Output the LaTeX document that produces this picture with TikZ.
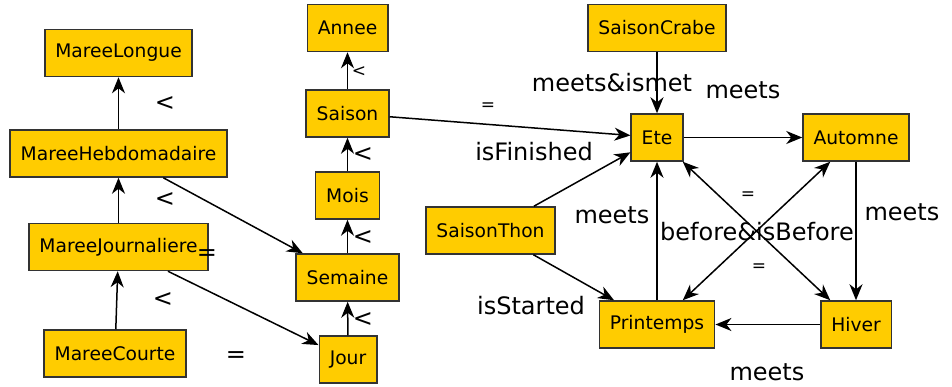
\documentclass[tikz,border=0pt]{standalone}
\usepackage{fontspec}
\setmainfont{DejaVu Sans}
\usetikzlibrary{arrows.meta}
\definecolor{boxyellow}{RGB}{255,204,0}
\definecolor{boxborder}{RGB}{51,51,51}
\begin{document}
\begin{tikzpicture}[x = 1pt, y = -1pt,
    main node/.style = {draw = boxborder, fill = boxyellow, line width = 1.5pt, rectangle, minimum height = 47pt, inner xsep = 10.5pt, font = \fontsize{18.7}{20}\selectfont},
    big label/.style = {inner sep = 0pt, font = \fontsize{24}{26}\selectfont},
    small label/.style = {inner sep = 0pt, font = \fontsize{17}{19}\selectfont},
    rel/.style = {-{Stealth[length = 16pt, width = 13pt, inset = 5pt]}, line width = 1.5pt},
    both rel/.style = {{Stealth[length = 16pt, width = 13pt, inset = 5pt]}-{Stealth[length = 16pt, width = 13pt, inset = 5pt]}, line width = 1.5pt}]
    \useasboundingbox (0, 0) rectangle (952, 387);
    % tides
    \node at (118.5, 53) [main node] (longue) {MareeLongue};
    \node at (118.5, 153.5) [main node] (hebdo) {MareeHebdomadaire};
    \node at (118.5, 247) [main node] (journ) {MareeJournaliere};
    \node at (115, 353.5) [main node] (courte) {MareeCourte};
    % calendar
    \node at (347.5, 28) [main node] (annee) {Annee};
    \node at (347.5, 113.5) [main node] (saison) {Saison};
    \node at (347.5, 195.5) [main node] (mois) {Mois};
    \node at (347.5, 277.5) [main node] (semaine) {Semaine};
    \node at (348, 359.5) [main node] (jour) {Jour};
    % seasons
    \node at (657, 28) [main node] (crabe) {SaisonCrabe};
    \node at (657, 137.5) [main node] (ete) {Ete};
    \node at (856, 137.5) [main node] (automne) {Automne};
    \node at (490.5, 230.5) [main node] (thon) {SaisonThon};
    \node at (657, 324.5) [main node] (printemps) {Printemps};
    \node at (856, 324.5) [main node] (hiver) {Hiver};

    \draw [rel] (hebdo) -- (longue);
    \draw [rel] (journ) -- (hebdo);
    \draw [rel] (courte) -- (journ);
    \draw [rel] (hebdo) -- (semaine);
    \draw [rel] (journ) -- (jour);
    \draw [rel] (saison) -- (annee);
    \draw [rel] (mois) -- (saison);
    \draw [rel] (semaine) -- (mois);
    \draw [rel] (jour) -- (semaine);
    \draw [rel] (saison) -- (ete);
    \draw [rel] (crabe) -- (ete);
    \draw [rel] (ete) -- (automne);
    \draw [rel] (automne) -- (hiver);
    \draw [rel] (hiver) -- (printemps);
    \draw [rel] (printemps) -- (ete);
    \draw [rel] (thon) -- (ete);
    \draw [rel] (thon) -- (printemps);
    \draw [both rel] (ete) -- (hiver);
    \draw [both rel] (printemps) -- (automne);

    % labels
    \node at (165, 104) [big label] (lt1) {<};
    \node at (165, 200) [big label] (lt2) {<};
    \node at (163, 300) [big label] (lt3) {<};
    \node at (207, 255) [big label] (eq1) {=};
    \node at (236, 357) [big label] (eq2) {=};
    \node at (359, 72) [small label] (lt4) {<};
    \node at (363, 155) [big label] (lt5) {<};
    \node at (363, 238) [big label] (lt6) {<};
    \node at (363, 320) [big label] (lt7) {<};
    \node at (488, 107) [small label] (eq3) {=};
    \node at (612, 83) [big label] (crabelabel) {meets\&ismet};
    \node at (743, 90) [big label] (meets1) {meets};
    \node at (534, 152) [big label] (finished) {isFinished};
    \node at (748, 196) [small label] (eq4) {=};
    \node at (612, 215) [big label] (meets2) {meets};
    \node at (757, 232) [big label] (before) {before\&isBefore};
    \node at (902, 212) [big label] (meets3) {meets};
    \node at (759, 268) [small label] (eq5) {=};
    \node at (531, 306) [big label] (started) {isStarted};
    \node at (767, 372) [big label] (meets4) {meets};
\end{tikzpicture}
\end{document}
